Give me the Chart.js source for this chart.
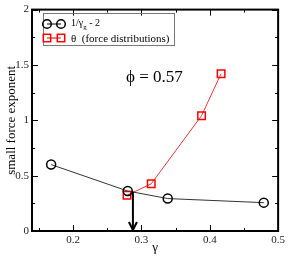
<!DOCTYPE html>
<html><head><meta charset="utf-8">
<script src="https://cdn.jsdelivr.net/npm/chart.js@4/dist/chart.umd.min.js"></script>
<style>html,body{margin:0;padding:0;background:#fff;}#wrap{width:288px;height:257px;}</style>
</head><body><div id="wrap"><canvas id="c" width="288" height="257"></canvas></div>
<script>
// data
const gammaX = [0.168, 0.28, 0.3385, 0.479];
const gammaY = [0.60, 0.361, 0.293, 0.256];
const thetaX = [0.279, 0.3144, 0.388, 0.4166];
const thetaY = [0.323, 0.426, 1.042, 1.421];
const xMajor = [0.2, 0.3, 0.4, 0.5];
const xMinor = [0.15, 0.25, 0.35, 0.45];
const yMajor = [0, 0.5, 1, 1.5, 2];
const yMinor = [0.25, 0.75, 1.25, 1.75];
const arrowX = 0.2876, arrowFrom = 0.355, arrowTo = 0;
const phiText = 'ϕ = 0.57', phiX = 0.2775, phiY = 1.345;
const legend1 = ['1/γ', 'g', ' - 2'];
const legend2 = 'θ  (force distributions)';

const SERIF = '"Liberation Serif", "DejaVu Serif", serif';

const deco = {
  id: 'deco',
  afterDatasetsDraw(chart) {
    const ctx = chart.ctx, a = chart.chartArea;
    const xs = chart.scales.x, ys = chart.scales.y;
    ctx.save();
    // ticks
    ctx.strokeStyle = '#000'; ctx.lineWidth = 1;
    const tick = (list, len) => {
      list.forEach(v => {
        const px = Math.round(xs.getPixelForValue(v)) + 0.5;
        ctx.beginPath();
        ctx.moveTo(px, a.bottom); ctx.lineTo(px, a.bottom - len);
        ctx.moveTo(px, a.top); ctx.lineTo(px, a.top + len);
        ctx.stroke();
      });
    };
    const ytick = (list, len) => {
      list.forEach(v => {
        const py = Math.round(ys.getPixelForValue(v)) + 0.5;
        ctx.beginPath();
        ctx.moveTo(a.left, py); ctx.lineTo(a.left + len, py);
        ctx.moveTo(a.right, py); ctx.lineTo(a.right - len, py);
        ctx.stroke();
      });
    };
    tick(xMajor, 6); tick(xMinor, 3);
    ytick(yMajor, 6); ytick(yMinor, 3);
    // border
    ctx.lineWidth = 2;
    ctx.strokeRect(a.left, a.top, a.right - a.left, a.bottom - a.top);
    // arrow
    const ax = xs.getPixelForValue(arrowX);
    const ay1 = ys.getPixelForValue(arrowFrom), ay2 = ys.getPixelForValue(arrowTo);
    ctx.lineWidth = 2;
    ctx.beginPath(); ctx.moveTo(ax, ay1); ctx.lineTo(ax, ay2 - 1); ctx.stroke();
    ctx.beginPath(); ctx.moveTo(ax - 4, ay2 - 9); ctx.lineTo(ax, ay2 - 1); ctx.lineTo(ax + 4, ay2 - 9); ctx.stroke();
    // phi text
    ctx.fillStyle = '#000';
    ctx.font = '17px ' + SERIF;
    ctx.textBaseline = 'alphabetic'; ctx.textAlign = 'left';
    ctx.fillText(phiText, xs.getPixelForValue(phiX), ys.getPixelForValue(phiY));
    // legend box
    ctx.lineWidth = 1; ctx.strokeStyle = '#777';
    ctx.strokeRect(43.5, 13.5, 131, 32);
    // row 1
    ctx.strokeStyle = '#000'; ctx.lineWidth = 1;
    ctx.beginPath(); ctx.moveTo(47, 24); ctx.lineTo(61, 24); ctx.stroke();
    ctx.lineWidth = 1.5;
    [47, 61].forEach(cx => { ctx.beginPath(); ctx.arc(cx, 24, 4.3, 0, Math.PI * 2); ctx.stroke(); });
    ctx.font = '10px ' + SERIF;
    let tx = 71;
    ctx.fillText(legend1[0], tx, 26); tx += ctx.measureText(legend1[0]).width;
    ctx.font = '7px ' + SERIF;
    ctx.fillText(legend1[1], tx, 29); tx += ctx.measureText(legend1[1]).width;
    ctx.font = '10px ' + SERIF;
    ctx.fillText(legend1[2], tx, 26);
    // row 2
    ctx.strokeStyle = '#ff0000'; ctx.lineWidth = 1;
    ctx.beginPath(); ctx.moveTo(47, 38); ctx.lineTo(61, 38); ctx.stroke();
    ctx.lineWidth = 1.5;
    [47, 61].forEach(cx => { ctx.strokeRect(cx - 3.7, 38 - 3.7, 7.4, 7.4); });
    ctx.fillStyle = '#000';
    ctx.font = '11px ' + SERIF;
    ctx.fillText(legend2, 71, 41.5);
    ctx.restore();
  }
};

new Chart(document.getElementById('c'), {
  type: 'scatter',
  data: {
    datasets: [
      {
        data: gammaX.map((x, i) => ({x, y: gammaY[i]})),
        showLine: true, borderColor: '#333', borderWidth: 1,
        pointStyle: 'circle', pointRadius: 4.5, pointBorderWidth: 1.5,
        pointBorderColor: '#000', pointBackgroundColor: 'rgba(0,0,0,0)'
      },
      {
        data: thetaX.map((x, i) => ({x, y: thetaY[i]})),
        showLine: true, borderColor: '#ff3030', borderWidth: 1,
        pointStyle: 'rect', pointRadius: 5.3, pointBorderWidth: 1.5,
        pointBorderColor: '#ff0000', pointBackgroundColor: 'rgba(0,0,0,0)'
      }
    ]
  },
  options: {
    responsive: false, animation: false, devicePixelRatio: 1,
    layout: { padding: { left: 0, right: 8, top: 4, bottom: 0 } },
    plugins: { legend: { display: false }, tooltip: { enabled: false } },
    scales: {
      x: {
        type: 'linear', min: 0.14, max: 0.5,
        afterBuildTicks: s => { s.ticks = xMajor.map(v => ({ value: v })); },
        afterFit: s => { s.height = 26; },
        grid: { display: false, drawTicks: false },
        border: { display: false },
        ticks: { padding: 3, color: '#222', font: { family: SERIF, size: 11 }, maxRotation: 0, callback: v => String(v) },
        title: { display: true, text: 'γ', color: '#000', font: { family: SERIF, size: 13 }, padding: { top: 0, bottom: 2 } }
      },
      y: {
        min: 0, max: 2,
        afterBuildTicks: s => { s.ticks = yMajor.map(v => ({ value: v })); },
        afterFit: s => { s.width = 32; },
        grid: { display: false, drawTicks: false },
        border: { display: false },
        ticks: { padding: 3, color: '#222', font: { family: SERIF, size: 11 }, callback: v => String(v) },
        title: { display: true, text: 'small force exponent', color: '#000', font: { family: SERIF, size: 13 }, padding: { top: 4, bottom: 0 } }
      }
    }
  },
  plugins: [deco]
});
</script></body></html>
